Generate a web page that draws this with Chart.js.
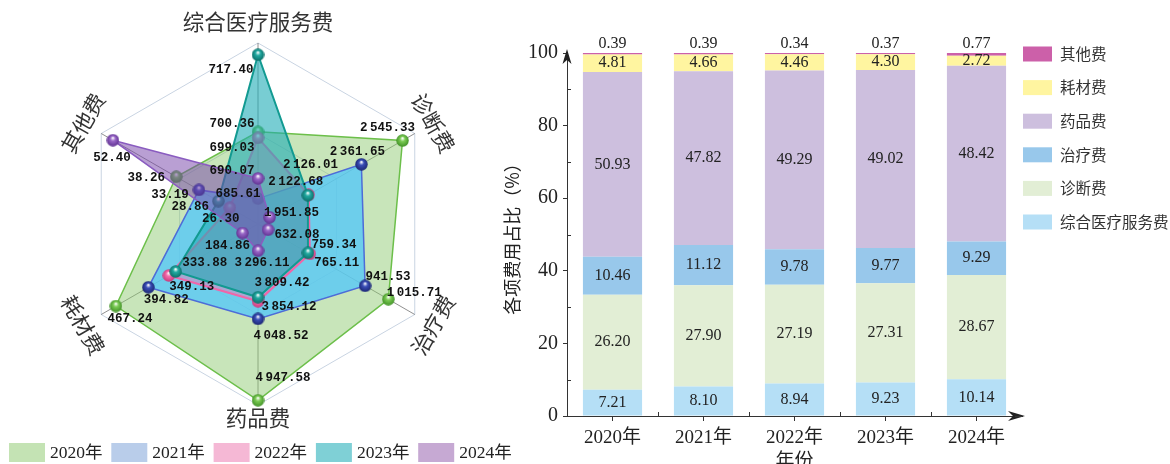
<!DOCTYPE html>
<html>
<head>
<meta charset="utf-8">
<script src="https://cdn.jsdelivr.net/npm/chart.js@4.4.1/dist/chart.umd.min.js"></script>
<style>
  html, body { margin: 0; padding: 0; background: #fff; overflow: hidden; }
  body { width: 1170px; height: 464px; position: relative; }
  #radarBox { position: absolute; left: 0; top: 0; width: 516px; height: 464px; }
  #barBox { position: absolute; left: 490px; top: 0; width: 680px; height: 474px; }
</style>
</head>
<body>
<div id="radarBox"><canvas id="radarChart"></canvas></div>
<div id="barBox"><canvas id="barChart"></canvas></div>
<script>
// ---- radar data (per capita cost by item) ----
const axisNames = ["综合医疗服务费", "诊断费", "治疗费", "药品费", "耗材费", "其他费"];
const axisMin = [680, 1900, 600, 3000, 150, 20];
const axisMax = [720, 2600, 1100, 5000, 500, 55];
const years = ["2020年", "2021年", "2022年", "2023年", "2024年"];
const cost2020 = [700.36, 2545.33, 1015.71, 4947.58, 467.24, 38.26];
const cost2021 = [685.61, 2361.65, 941.53, 4048.52, 394.82, 33.19];
const cost2022 = [699.03, 2126.01, 765.11, 3854.12, 349.13, 26.30];
const cost2023 = [717.40, 2122.68, 759.34, 3809.42, 333.88, 28.86];
const cost2024 = [690.07, 1951.85, 632.08, 3296.11, 184.86, 52.40];

// ---- stacked bar data (share %, per year) ----
const shareService = [7.21, 8.10, 8.94, 9.23, 10.14];
const shareDiagnosis = [26.20, 27.90, 27.19, 27.31, 28.67];
const shareTreatment = [10.46, 11.12, 9.78, 9.77, 9.29];
const shareDrug = [50.93, 47.82, 49.29, 49.02, 48.42];
const shareMaterial = [4.81, 4.66, 4.46, 4.30, 2.72];
const shareOther = [0.39, 0.39, 0.34, 0.37, 0.77];
const yTicks = [0, 20, 40, 60, 80, 100];

const yearCosts = [cost2020, cost2021, cost2022, cost2023, cost2024];

// colours: fill, line, legend swatch, ball base, ball shade
const radarStyle = [
  { fill: "rgba(140, 200, 110, 0.48)", line: "#6cbf4a", swatch: "#c4e3b4", ball: "#7ccc55", shade: "#3f8f25", width: 1.5 },
  { fill: "rgba(85, 200, 250, 0.78)", line: "#4d6cd8", swatch: "#b9cdea", ball: "#3a4fb8", shade: "#1a2470", width: 1.5 },
  { fill: "rgba(240, 120, 180, 0.45)", line: "#f066a8", swatch: "#f5b8d5", ball: "#f56fae", shade: "#c8377a", width: 2.2 },
  { fill: "rgba(30, 172, 182, 0.6)", line: "#129a91", swatch: "#7fd0d6", ball: "#22aaa2", shade: "#0a6d66", width: 2 },
  { fill: "rgba(120, 70, 170, 0.52)", line: "#8a5cc0", swatch: "#c6a9d3", ball: "#9a68c8", shade: "#5e3090", width: 1.5 }
];

// where each value label sits relative to its point
const labelShift = [
  [[-26, -8], [-15, -13], [26, -6], [25, -22], [14, 13], [-30, 1]],
  [[-20, -5], [-4, -12], [23, -9], [23, 17], [18, 13], [-29, 5]],
  [[-26, 10], [2, -30], [27, 9], [31, 6], [23, 11], [-9, 11]],
  [[-27, 15], [-12, -13], [26, -8], [24, -14], [29, -9], [-28, 6]],
  [[-26, -8], [22, -4], [29, 5], [4, 12], [-15, 13], [-1, 18]]
];

function ball(base, shade) {
  const c = document.createElement("canvas");
  c.width = 13;
  c.height = 13;
  const g = c.getContext("2d");
  const grad = g.createRadialGradient(6.5, 4, 0.3, 6.5, 6.5, 6.5);
  grad.addColorStop(0, "#ffffff");
  grad.addColorStop(0.35, base);
  grad.addColorStop(1, shade);
  g.fillStyle = grad;
  g.beginPath();
  g.arc(6.5, 6.5, 6.2, 0, Math.PI * 2);
  g.fill();
  return c;
}

function fmt(v) {
  const parts = v.toFixed(2).split(".");
  let head = parts[0];
  if (head.length > 3) head = head.slice(0, head.length - 3) + "\u2009" + head.slice(-3);
  return head + "." + parts[1];
}

const radarDatasets = yearCosts.map((cost, d) => ({
  label: years[d],
  data: cost.map((v, i) => (v - axisMin[i]) / (axisMax[i] - axisMin[i]) * 100),
  backgroundColor: radarStyle[d].fill,
  borderColor: radarStyle[d].line,
  borderWidth: radarStyle[d].width,
  pointStyle: ball(radarStyle[d].ball, radarStyle[d].shade),
  fill: true,
  order: yearCosts.length - d
}));

const radarText = {
  id: "radarText",
  afterDatasetsDraw(chart) {
    const ctx = chart.ctx;
    ctx.save();
    ctx.textAlign = "center";
    ctx.textBaseline = "middle";
    ctx.font = 'bold 12.5px "Liberation Mono", monospace';
    ctx.fillStyle = "#111";
    yearCosts.forEach((cost, d) => {
      const meta = chart.getDatasetMeta(d);
      meta.data.forEach((pt, i) => {
        const s = labelShift[d][i];
        ctx.fillText(fmt(cost[i]), pt.x + s[0], pt.y + s[1]);
      });
    });

    const r = chart.scales.r;
    ctx.font = '21.5px "Noto Sans CJK SC", sans-serif';
    ctx.fillStyle = "#333";
    axisNames.forEach((name, i) => {
      const p = r.getPointPosition(i, r.drawingArea + (i === 3 ? 13 : 21));
      let deg = r.getIndexAngle(i) * 180 / Math.PI;
      if (deg > 90 && deg < 270) deg -= 180;
      else if (deg >= 270) deg -= 360;
      ctx.save();
      ctx.translate(p.x, p.y);
      ctx.rotate(deg * Math.PI / 180);
      ctx.fillText(name, 0, 0);
      ctx.restore();
    });

    // legend row
    ctx.textAlign = "left";
    ctx.font = '17.5px "Liberation Serif", "Noto Sans CJK SC", serif';
    years.forEach((y, d) => {
      const x0 = 9 + d * 102.3;
      ctx.fillStyle = radarStyle[d].swatch;
      ctx.fillRect(x0, 443, 36, 19);
      ctx.fillStyle = "#222";
      ctx.fillText(y, x0 + 41, 453);
    });
    ctx.restore();
  }
};

new Chart(document.getElementById("radarChart"), {
  type: "radar",
  data: { labels: axisNames, datasets: radarDatasets },
  options: {
    responsive: true,
    maintainAspectRatio: false,
    animation: false,
    layout: { padding: { top: 43, bottom: 59, left: 0, right: 0 } },
    elements: { line: { tension: 0 }, point: { radius: 6 } },
    plugins: { legend: { display: false }, tooltip: { enabled: false } },
    scales: {
      r: {
        min: 0,
        max: 100,
        ticks: { display: false, stepSize: 50 },
        pointLabels: { display: false },
        grid: { color: "#c9d4e2", lineWidth: 1 },
        angleLines: { color: "rgba(70, 70, 70, 0.6)", lineWidth: 1 }
      }
    }
  },
  plugins: [radarText]
});

// ---- stacked bar ----
const barSeries = [
  { name: "综合医疗服务费", data: shareService, color: "#b5dff6" },
  { name: "诊断费", data: shareDiagnosis, color: "#e2eed5" },
  { name: "治疗费", data: shareTreatment, color: "#98c8eb" },
  { name: "药品费", data: shareDrug, color: "#cdbfde" },
  { name: "耗材费", data: shareMaterial, color: "#fff5a0" },
  { name: "其他费", data: shareOther, color: "#cc60a9" }
];

const barExtras = {
  id: "barExtras",
  afterDraw(chart) {
    const ctx = chart.ctx;
    const x = chart.scales.x;
    const y = chart.scales.y;
    ctx.save();

    // value labels
    ctx.font = '16px "Liberation Serif", serif';
    ctx.fillStyle = "#222";
    ctx.textAlign = "center";
    ctx.textBaseline = "middle";
    barSeries.forEach((s, d) => {
      const meta = chart.getDatasetMeta(d);
      meta.data.forEach((bar, i) => {
        const ty = d === barSeries.length - 1 ? bar.y - 9 : (bar.y + bar.base) / 2;
        ctx.fillText(s.data[i].toFixed(2), bar.x, ty);
      });
    });

    // minor ticks
    ctx.strokeStyle = "#333";
    ctx.lineWidth = 1;
    ctx.beginPath();
    for (let v = 10; v < 100; v += 20) {
      const py = Math.round(y.getPixelForValue(v)) + 0.5;
      ctx.moveTo(x.left, py);
      ctx.lineTo(x.left + 4, py);
    }
    for (let i = 0; i < years.length - 1; i++) {
      const px = Math.round(x.getPixelForValue(i + 0.5)) + 0.5;
      ctx.moveTo(px, y.bottom);
      ctx.lineTo(px, y.bottom - 4);
    }
    ctx.stroke();

    // axis arrows
    ctx.fillStyle = "#222";
    const ax = x.left, ay = y.top - 4;
    ctx.beginPath();
    ctx.moveTo(ax, ay);
    ctx.lineTo(ax - 4.5, ay + 15);
    ctx.lineTo(ax, ay + 11);
    ctx.lineTo(ax + 4.5, ay + 15);
    ctx.closePath();
    ctx.fill();
    const bx = x.right + 3, by = y.bottom;
    ctx.beginPath();
    ctx.moveTo(bx, by);
    ctx.lineTo(bx - 17, by - 5);
    ctx.lineTo(bx - 12, by);
    ctx.lineTo(bx - 17, by + 5);
    ctx.closePath();
    ctx.fill();
    ctx.strokeStyle = "#333";
    ctx.beginPath();
    ctx.moveTo(x.right, by + 0.5);
    ctx.lineTo(bx - 10, by + 0.5);
    ctx.stroke();

    // legend column
    ctx.textAlign = "left";
    ctx.font = '15.5px "Noto Sans CJK SC", sans-serif';
    barSeries.slice().reverse().forEach((s, k) => {
      const cy = 54 + k * 33.6;
      ctx.fillStyle = s.color;
      ctx.fillRect(533, cy - 7.5, 29, 15);
      ctx.fillStyle = "#333";
      ctx.fillText(s.name, 570, cy);
    });
    ctx.restore();
  }
};

new Chart(document.getElementById("barChart"), {
  type: "bar",
  data: {
    labels: years,
    datasets: barSeries.map((s) => ({
      label: s.name,
      data: s.data,
      backgroundColor: s.color,
      borderWidth: 0,
      barPercentage: 0.65,
      categoryPercentage: 1
    }))
  },
  options: {
    responsive: true,
    maintainAspectRatio: false,
    animation: false,
    layout: { padding: { top: 53, right: 148, left: 0, bottom: 0 } },
    plugins: { legend: { display: false }, tooltip: { enabled: false } },
    scales: {
      x: {
        stacked: true,
        afterFit: (scale) => { scale.height = 58; },
        border: { display: true, color: "#333", width: 1 },
        grid: { offset: false, drawOnChartArea: false, drawTicks: true, tickLength: 5, color: "#333" },
        ticks: { color: "#222", padding: 6, font: { family: '"Liberation Serif", "Noto Sans CJK SC", serif', size: 19 } },
        title: { display: true, text: "年份", color: "#222", padding: { top: 0, bottom: 3 }, font: { family: '"Noto Sans CJK SC", sans-serif', size: 19 } }
      },
      y: {
        stacked: true,
        min: 0,
        max: 100,
        afterFit: (scale) => { scale.width = 77; },
        afterBuildTicks: (scale) => { scale.ticks = yTicks.map((v) => ({ value: v })); },
        border: { display: true, color: "#333", width: 1 },
        grid: { drawOnChartArea: false, drawTicks: true, tickLength: 4, color: "#333" },
        ticks: { color: "#222", padding: 5, font: { family: '"Liberation Serif", serif', size: 20 } },
        title: { display: true, text: "各项费用占比（%）", color: "#222", padding: { top: 11, bottom: 0 }, font: { family: '"Noto Sans CJK SC", sans-serif', size: 18 } }
      }
    }
  },
  plugins: [barExtras]
});
</script>
</body>
</html>
